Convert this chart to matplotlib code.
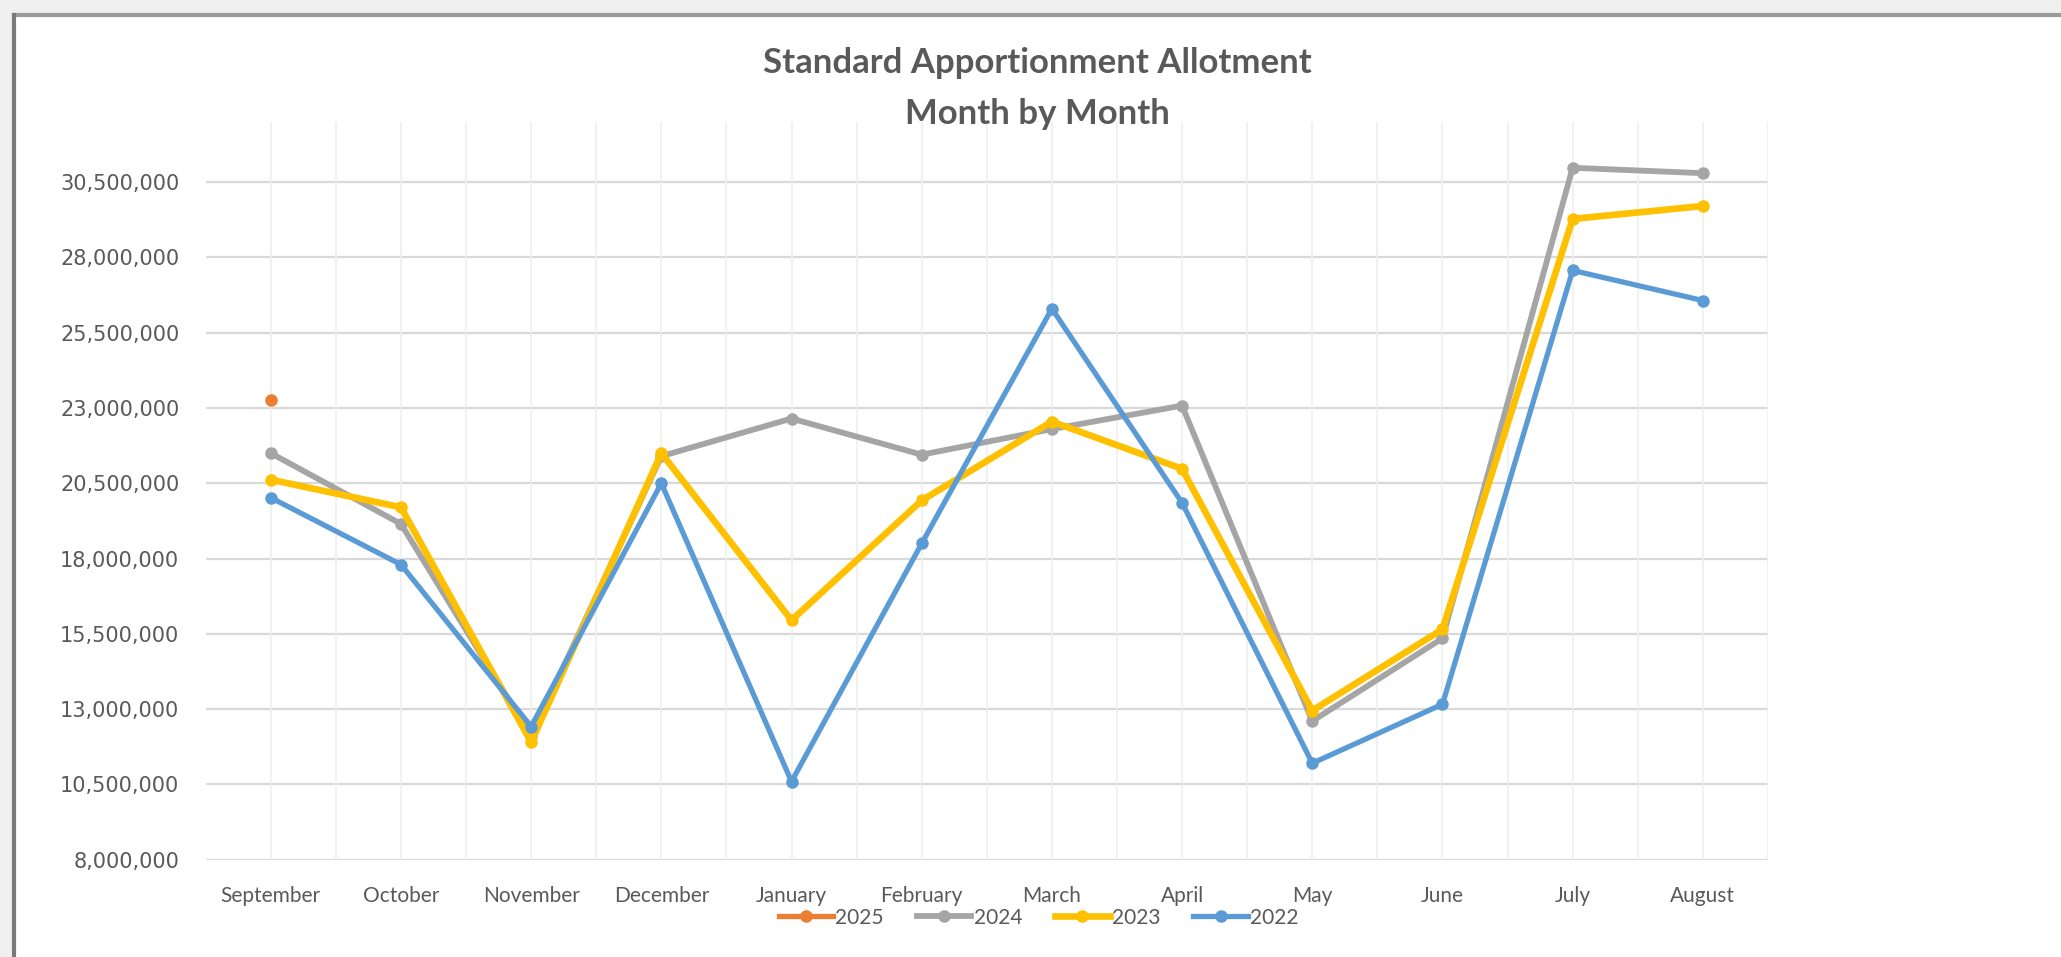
import matplotlib.pyplot as plt
from matplotlib.lines import Line2D
from matplotlib.ticker import FuncFormatter, FixedLocator

months = ['September', 'October', 'November', 'December', 'January', 'February',
          'March', 'April', 'May', 'June', 'July', 'August']

y2025 = [23250000]
y2024 = [21500000, 19150000, 12100000, 21400000, 22650000, 21450000,
         22300000, 23080000, 12600000, 15350000, 30980000, 30800000]
y2023 = [20620000, 19700000, 11900000, 21500000, 15950000, 19930000,
         22550000, 20980000, 12950000, 15650000, 29280000, 29710000]
y2022 = [20020000, 17800000, 12420000, 20500000, 10590000, 18500000,
         26300000, 19850000, 11200000, 13160000, 27570000, 26570000]

yticks = [8000000, 10500000, 13000000, 15500000, 18000000, 20500000,
          23000000, 25500000, 28000000, 30500000]

txt = '#595959'

fig = plt.figure(figsize=(20.61, 9.57), dpi=100, facecolor='white')
ax = fig.add_axes([0.0998, 0.1018, 0.758, 0.7707])

x = list(range(len(months)))

ax.plot(x[:1], y2025, color='#ED7D31', lw=3.8, marker='o', ms=8, label='2025')
ax.plot(x, y2024, color='#A5A5A5', lw=4.2, marker='o', ms=8, label='2024')
ax.plot(x, y2023, color='#FFC000', lw=4.8, marker='o', ms=8, label='2023')
ax.plot(x, y2022, color='#5B9BD5', lw=3.8, marker='o', ms=8, label='2022')

ax.set_xlim(-0.5, 11.5)
ax.set_ylim(8000000, 32500000)

# gridlines: horizontal at ticks, vertical at centres and boundaries
for yt in yticks:
    ax.axhline(yt, color='#d9d9d9', lw=1.6, zorder=0)
for i in range(len(months)):
    ax.axvline(i, color='#efefef', lw=1.2, zorder=0)
    ax.axvline(i + 0.5, color='#efefef', lw=1.2, zorder=0)

ax.yaxis.set_major_locator(FixedLocator(yticks))
ax.yaxis.set_major_formatter(FuncFormatter(lambda v, p: f'{int(v):,}'))
ax.set_xticks(x)
ax.set_xticklabels(months)
ax.tick_params(axis='x', length=0, pad=19, labelfontfamily='Lato', labelsize=15,
               labelcolor=txt)
ax.tick_params(axis='y', length=0, pad=19, labelfontfamily='DejaVu Sans', labelsize=15,
               labelcolor=txt)
for s in ax.spines.values():
    s.set_visible(False)

fig.text(0.5035, 0.934, 'Standard Apportionment Allotment', ha='center', va='center',
         family='Lato', fontweight='bold', fontsize=25, color=txt)
fig.text(0.5035, 0.881, 'Month by Month', ha='center', va='center',
         family='Lato', fontweight='bold', fontsize=25, color=txt)

leg = fig.legend(loc='center', bbox_to_anchor=(0.504, 0.041), ncol=4, frameon=False,
                 prop={'family': 'Lato', 'size': 15}, handlelength=2.6,
                 handletextpad=0.1, columnspacing=1.6, labelcolor=txt)

# screenshot frame
fig.patches.append(plt.Rectangle((0, 0.985), 1, 0.015, transform=fig.transFigure,
                                 color='#f0f0f0', zorder=-1))
fig.add_artist(Line2D([0.007, 1], [0.984, 0.984], color='#9a9a9a', lw=3, transform=fig.transFigure))
fig.add_artist(Line2D([0.007, 0.007], [0, 0.984], color='#7a7a7a', lw=3, transform=fig.transFigure))
fig.patches.append(plt.Rectangle((0, 0), 0.006, 0.985, transform=fig.transFigure,
                                 color='#f0f0f0', zorder=-1))

fig.savefig('out.png', dpi=100)
